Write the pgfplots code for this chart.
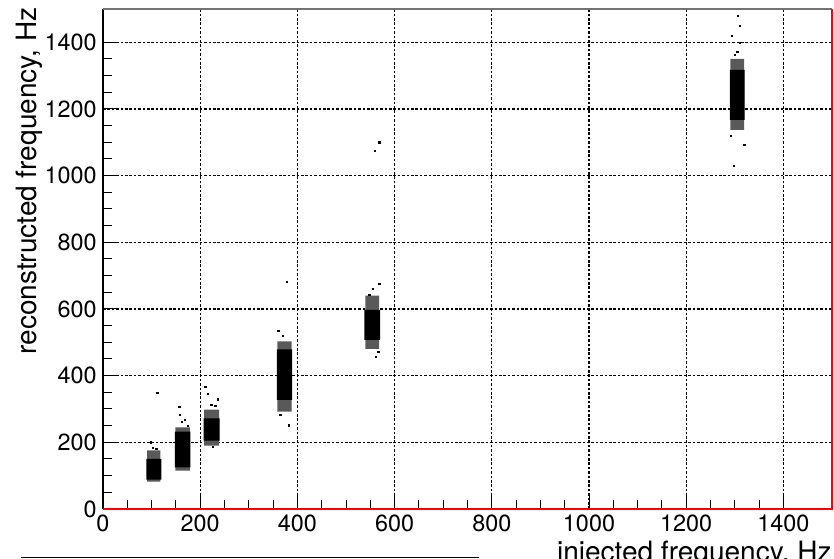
\documentclass[border=0pt]{standalone}
\usepackage{fontspec}
\setmainfont{TeX Gyre Heros}
\usepackage{pgfplots}
\pgfplotsset{compat=1.18}
\begin{document}
\begin{tikzpicture}
\begin{axis}[
 name=ax,
 scale only axis,
 width=364.5pt, height=250pt,
 xmin=0, xmax=1500, ymin=0, ymax=1500,
 xtick={0,200,...,1400}, ytick={0,200,...,1400},
 minor tick num=3,
 tick align=inside, tick pos=left,
 major tick length=8pt, minor tick length=4.5pt,
 tick style={black, line width=0.5pt},
 grid=major,
 major grid style={black, line width=0.55pt, dash pattern=on 1.3pt off 0.9pt},
 axis line style={draw=none},
 /pgf/number format/assume math mode=true,
 /pgf/number format/1000 sep={},
 ticklabel style={font=\fontsize{11.7}{12}\selectfont, inner sep=0pt},
 xticklabel style={anchor=north, yshift=-2.7pt},
 yticklabel style={anchor=east, xshift=-3pt},
 xlabel={injected frequency, Hz},
 ylabel={reconstructed frequency, Hz},
 label style={font=\fontsize{14}{16}\selectfont, inner sep=0pt},
 xlabel style={at={(rel axis cs:1,-0.063)}, anchor=north east},
 ylabel style={at={(rel axis cs:-0.1198,1.004)}, anchor=north east},
]
% outer (sparser) parts of each cluster
\addplot[fill=black!65, draw=none] coordinates {(91,82) (118,82) (118,176) (91,176) (91,82)};
\addplot[fill=black!65, draw=none] coordinates {(149,115) (179,115) (179,245) (149,245) (149,115)};
\addplot[fill=black!65, draw=none] coordinates {(208,190) (239,190) (239,298) (208,298) (208,190)};
\addplot[fill=black!65, draw=none] coordinates {(359,292) (388,292) (388,503) (359,503) (359,292)};
\addplot[fill=black!65, draw=none] coordinates {(540,480) (568,480) (568,640) (540,640) (540,480)};
\addplot[fill=black!65, draw=none] coordinates {(1291,1137) (1319,1137) (1319,1350) (1291,1350) (1291,1137)};
% dense cores
\addplot[fill=black, draw=none] coordinates {(89,88) (120,88) (120,150) (89,150) (89,88)};
\addplot[fill=black, draw=none] coordinates {(148,125) (180,125) (180,232) (148,232) (148,125)};
\addplot[fill=black, draw=none] coordinates {(207,205) (240,205) (240,272) (207,272) (207,205)};
\addplot[fill=black, draw=none] coordinates {(358,327) (389,327) (389,479) (358,479) (358,327)};
\addplot[fill=black, draw=none] coordinates {(538,507) (570,507) (570,597) (538,597) (538,507)};
\addplot[fill=black, draw=none] coordinates {(1290,1167) (1320,1167) (1320,1317) (1290,1317) (1290,1167)};
% isolated entries
\addplot[only marks, mark=square*, mark size=0.35pt, black] coordinates {
 (112,349) (98,200) (103,184) (110,180)
 (157,307) (158,282) (162,262) (175,249) (168,268)
 (211,367) (216,345) (237,329) (223,312) (231,310) (226,186)
 (361,534) (379,682) (383,251) (370,520) (365,282)
 (569,675) (548,642) (567,472) (561,457) (569,1100) (559,1075) (555,660)
 (1306,1480) (1310,1449) (1294,1419) (1310,1399) (1292,1119) (1320,1092) (1298,1029) (1305,1372) (1300,1362)
};
\end{axis}
\draw[black, line width=0.6pt] (ax.south west) -- (ax.north west);
\draw[black!55, line width=0.9pt] (ax.north west) -- (ax.north east);
\draw[red, line width=1pt] (ax.south west) -- (ax.south east) -- (ax.north east);
\draw[black, line width=0.65pt] ([xshift=-41pt,yshift=-24.25pt]ax.south west) -- ([xshift=188pt,yshift=-24.25pt]ax.south west);
\pgfresetboundingbox
\path[use as bounding box] ([xshift=-51.5pt,yshift=-25pt]ax.south west) rectangle ([xshift=1pt,yshift=4.5pt]ax.north east);
\end{tikzpicture}
\end{document}
